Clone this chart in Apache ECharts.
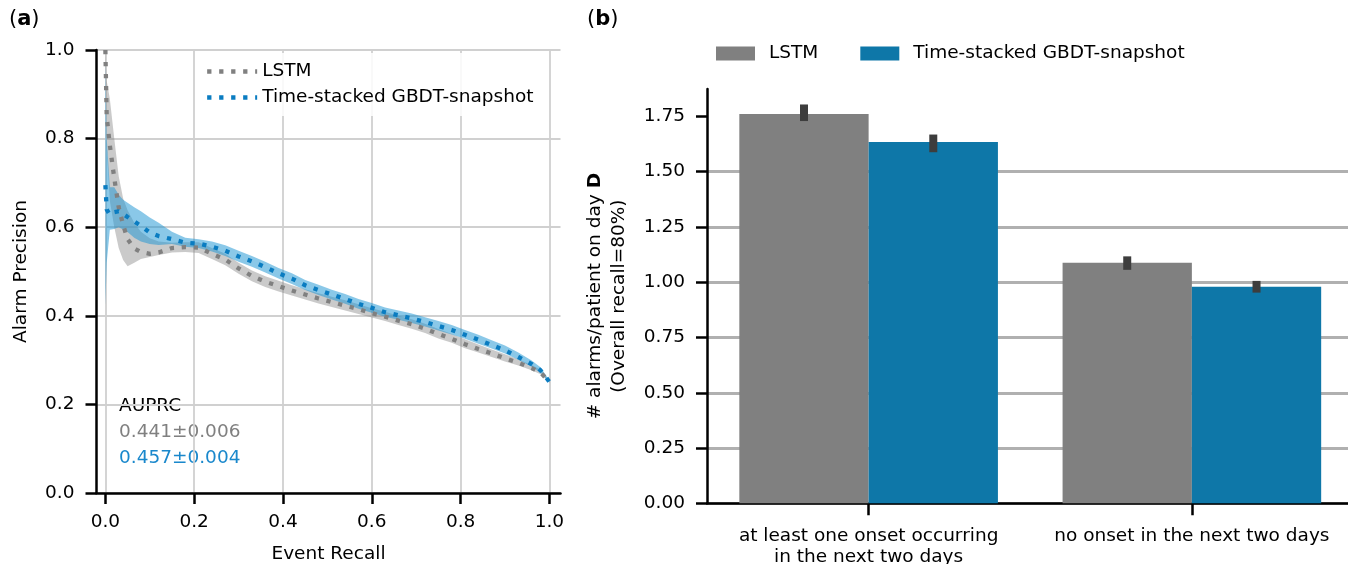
<!DOCTYPE html>
<html>
<head>
<meta charset="utf-8">
<title>Alarm precision and alarm load</title>
<script src="https://cdn.jsdelivr.net/npm/echarts@6.0.0/dist/echarts.min.js"></script>
<style>
  html, body { margin: 0; padding: 0; background: #fff; }
  #chart { width: 1348px; height: 564px; }
</style>
</head>
<body>
<div id="chart"></div>
<script>
// ---- panel (a): precision / recall curves ----
var recall = [0, 0.003, 0.01, 0.02, 0.03, 0.04, 0.05, 0.065, 0.08, 0.1, 0.12, 0.15, 0.18, 0.21, 0.24, 0.27,
  0.3, 0.33, 0.36, 0.39, 0.42, 0.45, 0.48, 0.51, 0.54, 0.57, 0.6, 0.63, 0.66, 0.69, 0.72, 0.75, 0.78,
  0.81, 0.84, 0.87, 0.9, 0.93, 0.96, 0.98, 1.0];

var lstmMean = [1.0, 0.85, 0.785, 0.711, 0.645, 0.605, 0.573, 0.552, 0.544, 0.540, 0.543, 0.553, 0.555, 0.554, 0.540, 0.527,
  0.507, 0.490, 0.477, 0.467, 0.457, 0.448, 0.439, 0.431, 0.423, 0.415, 0.406, 0.398, 0.389, 0.381, 0.371, 0.359, 0.348,
  0.336, 0.325, 0.315, 0.304, 0.294, 0.282, 0.272, 0.251];
var lstmLow = [0.98, 0.78, 0.66, 0.60, 0.553, 0.526, 0.512, 0.52, 0.528, 0.533, 0.537, 0.543, 0.544, 0.542, 0.528, 0.514,
  0.495, 0.478, 0.465, 0.455, 0.446, 0.437, 0.428, 0.420, 0.412, 0.404, 0.396, 0.388, 0.379, 0.371, 0.361, 0.349, 0.339,
  0.327, 0.317, 0.307, 0.297, 0.288, 0.277, 0.268, 0.250];
var lstmHigh = [1.0, 0.93, 0.89, 0.80, 0.715, 0.665, 0.638, 0.61, 0.59, 0.575, 0.568, 0.565, 0.566, 0.566, 0.553, 0.540,
  0.520, 0.502, 0.489, 0.479, 0.469, 0.460, 0.451, 0.443, 0.435, 0.426, 0.417, 0.409, 0.400, 0.392, 0.382, 0.370, 0.359,
  0.347, 0.335, 0.324, 0.313, 0.302, 0.289, 0.278, 0.253];

var gbdtMean = [0.695, 0.64, 0.628, 0.634, 0.636, 0.630, 0.623, 0.613, 0.603, 0.588, 0.580, 0.573, 0.565, 0.563, 0.556, 0.547,
  0.534, 0.523, 0.510, 0.496, 0.484, 0.469, 0.458, 0.448, 0.438, 0.427, 0.418, 0.408, 0.401, 0.394, 0.386, 0.377, 0.368,
  0.357, 0.346, 0.334, 0.322, 0.307, 0.291, 0.277, 0.251];
var gbdtLow = [0.424, 0.52, 0.594, 0.596, 0.600, 0.595, 0.589, 0.576, 0.568, 0.562, 0.560, 0.562, 0.556, 0.553, 0.545, 0.535,
  0.522, 0.511, 0.498, 0.484, 0.472, 0.458, 0.447, 0.437, 0.427, 0.416, 0.407, 0.398, 0.391, 0.384, 0.376, 0.367, 0.358,
  0.348, 0.337, 0.326, 0.315, 0.301, 0.285, 0.272, 0.249];
var gbdtHigh = [0.97, 0.80, 0.69, 0.69, 0.673, 0.662, 0.655, 0.645, 0.636, 0.622, 0.610, 0.590, 0.576, 0.573, 0.568, 0.559,
  0.547, 0.535, 0.522, 0.508, 0.496, 0.481, 0.470, 0.459, 0.449, 0.438, 0.429, 0.419, 0.412, 0.405, 0.397, 0.388, 0.379,
  0.368, 0.357, 0.345, 0.333, 0.317, 0.299, 0.284, 0.254];

var recallTicks = [0, 0.2, 0.4, 0.6, 0.8, 1.0];
var auprcLines = ['AUPRC', '0.441\u00b10.006', '0.457\u00b10.004'];

// ---- panel (b): alarms per patient ----
var groups = ['at least one onset occurring\nin the next two days', 'no onset in the next two days'];
var lstmBars = [1.761, 1.088];
var gbdtBars = [1.634, 0.979];
var lstmErr = [[1.729, 1.804], [1.056, 1.117]];
var gbdtErr = [[1.588, 1.668], [0.953, 1.006]];
var alarmTicks = [0, 0.25, 0.5, 0.75, 1.0, 1.25, 1.5, 1.75];

var FONT = 'DejaVu Sans';
var FS = 18.5;
var GREY = '#808080';
var BLUE_LINE = '#0a7cc1';
var BLUE_BAR = '#0e77a8';
var names = ['LSTM', 'Time-stacked GBDT-snapshot'];

function pairs(xs, ys) {
  return xs.map(function (x, i) { return [x, ys[i]]; });
}
// shaded band between lo and hi, one polygon through the axis scales
function bandSeries(lo, hi, fill) {
  return {
    type: 'custom', silent: true, z: 1,
    data: recall.map(function (r, i) { return [r, lo[i], hi[i]]; }),
    encode: { x: 0, y: [1, 2] },
    renderItem: function (params, api) {
      if (params.dataIndex !== 0) return null;
      var upper = recall.map(function (r, i) { return api.coord([r, hi[i]]); });
      var lower = recall.map(function (r, i) { return api.coord([r, lo[i]]); }).reverse();
      return { type: 'polygon', shape: { points: upper.concat(lower) }, style: { fill: fill } };
    }
  };
}
function errSeries(err, side) {
  return {
    type: 'custom', xAxisIndex: 1, yAxisIndex: 1, z: 5, silent: true,
    data: err.map(function (e, i) { return [i, e[0], e[1]]; }),
    renderItem: function (params, api) {
      var lo = api.coord([api.value(0), api.value(1)]);
      var hi = api.coord([api.value(0), api.value(2)]);
      var bw = api.size([1, 0])[0];
      var x = lo[0] + side * bw * 0.2;
      return { type: 'rect', shape: { x: x - 4, y: hi[1], width: 8, height: lo[1] - hi[1] },
               style: { fill: '#3d3d3d' } };
    }
  };
}

var txt = { fontFamily: FONT, fontSize: FS, color: '#000' };
var spine = { show: true, onZero: false, lineStyle: { color: '#000', width: 2.5 } };
var tick = { show: true, length: 11, lineStyle: { color: '#000', width: 2.5 } };

var chart = echarts.init(document.getElementById('chart'));
chart.setOption({
  animation: false,
  backgroundColor: '#fff',
  textStyle: { fontFamily: FONT },
  grid: [
    { left: 96.5, top: 50, width: 464, height: 443, outerBoundsMode: 'none', containLabel: false },
    { left: 707, top: 89, width: 646.5, height: 414.3, outerBoundsMode: 'none', containLabel: false }
  ],
  legend: [
    { data: names, orient: 'vertical', left: 199, top: 53, itemWidth: 50, itemHeight: 14, itemGap: 7,
      padding: [9, 10, 9, 6], backgroundColor: 'rgba(255,255,255,0.85)', borderRadius: 4,
      itemStyle: { opacity: 0 }, lineStyle: { width: 4.3 }, textStyle: txt, selectedMode: false },
    { data: [
        { name: names[0], icon: 'rect', itemStyle: { color: GREY, borderWidth: 0, opacity: 1 } },
        { name: names[1], icon: 'rect', itemStyle: { color: BLUE_BAR, borderWidth: 0, opacity: 1 } }
      ],
      orient: 'horizontal', left: 716, top: 44, itemWidth: 39, itemHeight: 14, itemGap: 42, padding: 0,
      textStyle: Object.assign({ padding: [0, 0, 0, 9] }, txt), selectedMode: false }
  ],
  xAxis: [
    { gridIndex: 0, type: 'value', min: -0.02, max: 1.025,
      axisLine: spine, axisTick: Object.assign({ customValues: recallTicks }, tick),
      axisLabel: Object.assign({ customValues: recallTicks, margin: 20,
        formatter: function (v) { return v.toFixed(1); } }, txt),
      splitLine: { show: true, lineStyle: { color: '#d0d0d0', width: 1.8 } },
      name: 'Event Recall', nameLocation: 'middle', nameGap: 52, nameTextStyle: txt },
    { gridIndex: 1, type: 'category', data: groups,
      axisLine: spine, axisTick: Object.assign({ alignWithLabel: true }, tick, { length: 12 }),
      axisLabel: Object.assign({ interval: 0, margin: 22, lineHeight: 21 }, txt),
      splitLine: { show: false } }
  ],
  yAxis: [
    { gridIndex: 0, type: 'value', min: 0, max: 1, interval: 0.2,
      axisLine: spine, axisTick: tick,
      axisLabel: Object.assign({ margin: 22, formatter: function (v) { return v.toFixed(1); } }, txt),
      splitLine: { show: true, lineStyle: { color: '#d0d0d0', width: 1.8 } },
      name: 'Alarm Precision', nameLocation: 'middle', nameGap: 66, nameTextStyle: txt },
    { gridIndex: 1, type: 'value', min: 0, max: 1.874,
      axisLine: spine, axisTick: Object.assign({ customValues: alarmTicks }, tick),
      axisLabel: Object.assign({ customValues: alarmTicks, margin: 22,
        formatter: function (v) { return v.toFixed(2); } }, txt),
      splitLine: { show: true, showMaxLine: false, lineStyle: { color: '#b0b0b0', width: 3 } },
      name: '{n|# alarms/patient on day }{d|D}\n{n|(Overall recall=80%)}',
      nameLocation: 'middle', nameGap: 76,
      nameTextStyle: { align: 'center', rich: {
        n: { fontFamily: FONT, fontSize: FS, color: '#000', lineHeight: 24 },
        d: { fontFamily: FONT, fontSize: FS, fontWeight: 'bold', color: '#000', lineHeight: 24 }
      } } }
  ],
  graphic: [
    { type: 'text', left: 9, top: 9, style: { text: '({b|a})', font: '21px "DejaVu Sans"', fill: '#000',
      rich: { b: { fontFamily: FONT, fontSize: 21, fontWeight: 'bold' } } } },
    { type: 'text', left: 587, top: 9, style: { text: '({b|b})', font: '21px "DejaVu Sans"', fill: '#000',
      rich: { b: { fontFamily: FONT, fontSize: 21, fontWeight: 'bold' } } } },
    { type: 'text', left: 119, top: 397, style: { text: auprcLines[0], font: FS + 'px "DejaVu Sans"', fill: '#000' } },
    { type: 'text', left: 119, top: 423, style: { text: auprcLines[1], font: FS + 'px "DejaVu Sans"', fill: GREY } },
    { type: 'text', left: 119, top: 449, style: { text: auprcLines[2], font: FS + 'px "DejaVu Sans"', fill: '#1a88cc' } }
  ],
  series: [
    bandSeries(lstmLow, lstmHigh, 'rgba(128,128,128,0.42)'),
    bandSeries(gbdtLow, gbdtHigh, 'rgba(30,150,210,0.52)'),
    { name: names[0], type: 'line', data: pairs(recall, lstmMean), symbol: 'none', z: 3,
      itemStyle: { color: GREY },
      lineStyle: { color: GREY, width: 4.3, type: [4.3, 7.7], cap: 'butt' } },
    { name: names[1], type: 'line', data: pairs(recall, gbdtMean), symbol: 'none', z: 4,
      itemStyle: { color: BLUE_LINE },
      lineStyle: { color: BLUE_LINE, width: 4.3, type: [4.3, 7.7], cap: 'butt' } },
    { name: names[0], type: 'bar', xAxisIndex: 1, yAxisIndex: 1, data: lstmBars,
      barGap: 0, barCategoryGap: '20%', itemStyle: { color: GREY } },
    { name: names[1], type: 'bar', xAxisIndex: 1, yAxisIndex: 1, data: gbdtBars,
      barGap: 0, barCategoryGap: '20%', itemStyle: { color: BLUE_BAR } },
    errSeries(lstmErr, -1),
    errSeries(gbdtErr, 1)
  ]
});
</script>
</body>
</html>
